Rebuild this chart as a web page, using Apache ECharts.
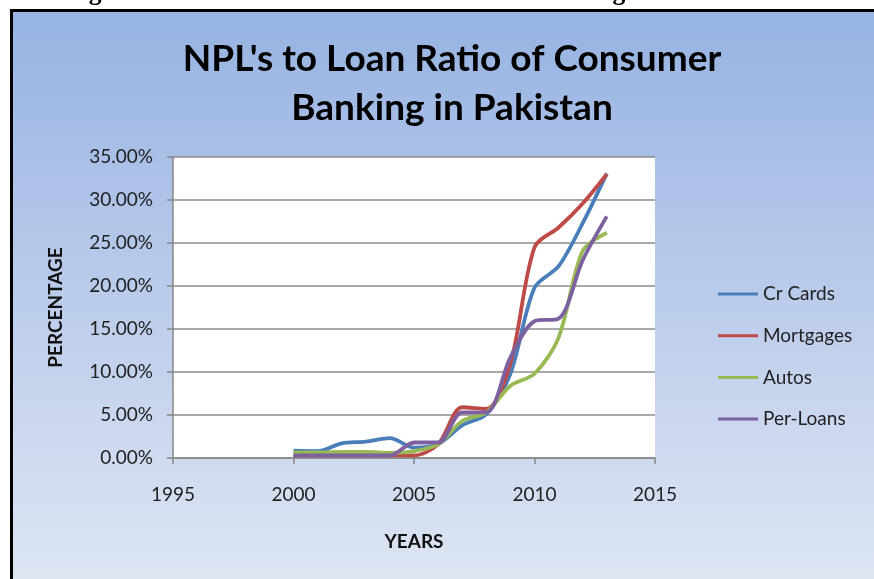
<!DOCTYPE html>
<html>
<head>
<meta charset="utf-8">
<script src="https://cdn.jsdelivr.net/npm/echarts@6/dist/echarts.min.js"></script>
<style>
    html, body { margin: 0; padding: 0; background: #fff; overflow: hidden; }
    #frame {
        position: absolute; left: 10px; top: 9px; width: 900px; height: 600px;
        border-left: 3px solid #000; border-top: 3px solid #000;
        background: linear-gradient(to bottom, #97b3e2 0%, #e2e8f4 100%);
    }
    #main { position: absolute; left: 0; top: 0; width: 874px; height: 579px; }
</style>
</head>
<body>
<div id="frame"></div>
<div id="main"></div>
<script>
// years and NPL ratios (%)
var years = [2000, 2001, 2002, 2003, 2004, 2005, 2006, 2007, 2008, 2009, 2010, 2011, 2012, 2013];
var crCards   = [0.85, 0.8, 1.7, 1.9, 2.3, 1.2, 1.6, 3.8, 5.1, 9.8, 19.8, 22.3, 27.3, 33.1];
var mortgages = [0.3, 0.3, 0.3, 0.3, 0.3, 0.3, 1.6, 5.9, 5.7, 11.0, 24.5, 26.8, 29.6, 33.0];
var autos     = [0.65, 0.65, 0.7, 0.7, 0.6, 0.8, 1.6, 4.3, 5.3, 8.4, 9.8, 14.0, 24.1, 26.2];
var perLoans  = [0.3, 0.3, 0.3, 0.3, 0.3, 1.8, 1.8, 5.3, 5.3, 11.7, 15.9, 16.2, 23.0, 28.1];
var seriesNames = ['Cr Cards', 'Mortgages', 'Autos', 'Per-Loans'];
var seriesValues = [crCards, mortgages, autos, perLoans];
var colors = ['#4a7ebb', '#be4b48', '#98b954', '#7d60a0'];

function pairs(vals) {
    var out = [];
    for (var i = 0; i < years.length; i++) {
        out.push([years[i], vals[i]]);
    }
    return out;
}

var series = [];
for (var i = 0; i < seriesNames.length; i++) {
    series.push({
        name: seriesNames[i],
        type: 'line',
        data: pairs(seriesValues[i]),
        smooth: 0.3,
        symbol: 'none',
        lineStyle: { width: 3.8, color: colors[i] },
        itemStyle: { color: colors[i] }
    });
}

var myChart = echarts.init(document.getElementById('main'));
var option = {
    animation: false,
    textStyle: { fontFamily: 'Lato' },
    title: {
        text: "NPL's to Loan Ratio of Consumer\nBanking in Pakistan",
        left: 447,
        top: 30,
        textAlign: 'center',
        textStyle: { fontSize: 37, fontWeight: 'bold', color: '#000', lineHeight: 49, fontFamily: 'Lato' }
    },
    graphic: [{
        type: 'text',
        left: 66,
        top: -20,
        style: {
            text: 'Figure 3: NPL to Loan Ratio of Consumer Banking in Pakistan',
            font: 'bold 25.5px "Liberation Serif"',
            fill: '#000'
        }
    }],
    legend: {
        orient: 'vertical',
        left: 713,
        top: 279,
        itemWidth: 40,
        itemHeight: 3,
        itemGap: 21.7,
        icon: 'rect',
        data: seriesNames,
        textStyle: { fontSize: 19, lineHeight: 20, color: '#222', fontFamily: 'Lato' }
    },
    grid: {
        left: 173, right: 219, top: 157, bottom: 121,
        show: true, backgroundColor: '#fff', borderWidth: 0
    },
    xAxis: {
        type: 'value',
        min: 1995, max: 2015, interval: 5,
        name: 'YEARS',
        nameLocation: 'middle',
        nameGap: 74,
        nameTextStyle: { fontSize: 19, fontWeight: 'bold', color: '#111' },
        axisLine: { lineStyle: { color: '#868686', width: 1.5 } },
        axisTick: { show: true, inside: false, length: 6, lineStyle: { color: '#868686', width: 1.5 } },
        axisLabel: {
            fontSize: 19, color: '#222', margin: 27,
            formatter: function (v) { return String(v); }
        },
        splitLine: { show: false }
    },
    yAxis: {
        type: 'value',
        min: 0, max: 35, interval: 5,
        name: 'PERCENTAGE',
        nameLocation: 'middle',
        nameGap: 108,
        nameTextStyle: { fontSize: 19, fontWeight: 'bold', color: '#111' },
        axisLine: { show: true, lineStyle: { color: '#868686', width: 1.5 } },
        axisTick: { show: true, inside: false, length: 6, lineStyle: { color: '#868686', width: 1.5 } },
        axisLabel: {
            fontSize: 19, color: '#222', margin: 20,
            formatter: function (v) { return v.toFixed(2) + '%'; }
        },
        splitLine: { show: true, lineStyle: { color: '#8c8c8c', width: 1.5 } }
    },
    series: series
};
myChart.setOption(option);
</script>
</body>
</html>
